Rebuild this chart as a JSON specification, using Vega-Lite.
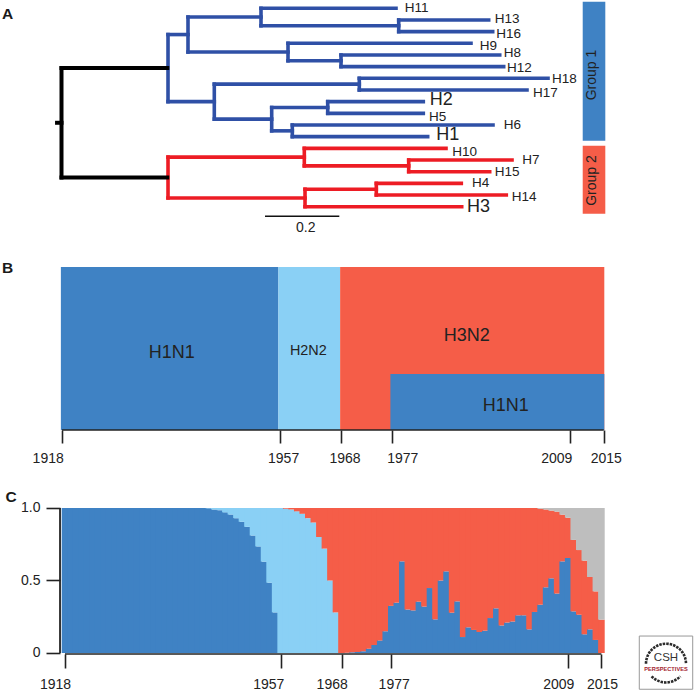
{
"$schema":"https://vega.github.io/schema/vega-lite/v6.json",
"background":"white",
"padding":0,
"spacing":0,
"bounds":"flush",
"resolve":{"scale":{"color":"independent","fill":"independent"}},
"config":{"view":{"stroke":null},"font":"Liberation Sans","text":{"font":"Liberation Sans"},"axis":{"labelFont":"Liberation Sans"}},
"vconcat":[
{
"width":694,"height":267,
"encoding":{
"x":{"field":"x","type":"quantitative","scale":{"domain":[-0.16555,1.70256],"nice":false,"zero":false},"axis":null},
"y":{"field":"y","type":"quantitative","scale":{"domain":[23.168,0.289],"nice":false,"zero":false},"axis":null}
},
"layer":[
{"data":{"values":[
{"x":0.2867,"x2":0.2867,"y":3.25,"y2":9,"clade":"Group 1"},
{"x":0.2867,"x2":0.3405,"y":3.25,"y2":3.25,"clade":"Group 1"},
{"x":0.2867,"x2":0.4113,"y":9,"y2":9,"clade":"Group 1"},
{"x":0.3405,"x2":0.3405,"y":1.75,"y2":4.75,"clade":"Group 1"},
{"x":0.3405,"x2":0.537,"y":1.75,"y2":1.75,"clade":"Group 1"},
{"x":0.3405,"x2":0.6097,"y":4.75,"y2":4.75,"clade":"Group 1"},
{"x":0.537,"x2":0.537,"y":1,"y2":2.5,"clade":"Group 1"},
{"x":0.537,"x2":0.9004,"y":1,"y2":1,"clade":"Group 1"},
{"x":0.537,"x2":0.9077,"y":2.5,"y2":2.5,"clade":"Group 1"},
{"x":0.9077,"x2":0.9077,"y":2,"y2":3,"clade":"Group 1"},
{"x":0.9077,"x2":1.1499,"y":2,"y2":2,"clade":"Group 1"},
{"x":0.9077,"x2":1.1607,"y":3,"y2":3,"clade":"Group 1"},
{"x":0.6097,"x2":0.6097,"y":4,"y2":5.5,"clade":"Group 1"},
{"x":0.6097,"x2":1.1023,"y":4,"y2":4,"clade":"Group 1"},
{"x":0.6097,"x2":0.7524,"y":5.5,"y2":5.5,"clade":"Group 1"},
{"x":0.7524,"x2":0.7524,"y":5,"y2":6,"clade":"Group 1"},
{"x":0.7524,"x2":1.1796,"y":5,"y2":5,"clade":"Group 1"},
{"x":0.7524,"x2":1.1903,"y":6,"y2":6,"clade":"Group 1"},
{"x":0.4113,"x2":0.4113,"y":7.5,"y2":10.5,"clade":"Group 1"},
{"x":0.4113,"x2":0.8016,"y":7.5,"y2":7.5,"clade":"Group 1"},
{"x":0.4113,"x2":0.5658,"y":10.5,"y2":10.5,"clade":"Group 1"},
{"x":0.8016,"x2":0.8016,"y":7,"y2":8,"clade":"Group 1"},
{"x":0.8016,"x2":1.3096,"y":7,"y2":7,"clade":"Group 1"},
{"x":0.8016,"x2":1.253,"y":8,"y2":8,"clade":"Group 1"},
{"x":0.5658,"x2":0.5658,"y":9.5,"y2":11.5,"clade":"Group 1"},
{"x":0.5658,"x2":0.7166,"y":9.5,"y2":9.5,"clade":"Group 1"},
{"x":0.5658,"x2":0.6213,"y":11.5,"y2":11.5,"clade":"Group 1"},
{"x":0.7166,"x2":0.7166,"y":9,"y2":10,"clade":"Group 1"},
{"x":0.7166,"x2":0.9739,"y":9,"y2":9,"clade":"Group 1"},
{"x":0.7166,"x2":0.9739,"y":10,"y2":10,"clade":"Group 1"},
{"x":0.6213,"x2":0.6213,"y":11,"y2":12,"clade":"Group 1"},
{"x":0.6213,"x2":1.1615,"y":11,"y2":11,"clade":"Group 1"},
{"x":0.6213,"x2":0.9857,"y":12,"y2":12,"clade":"Group 1"},
{"x":0.2867,"x2":0.2867,"y":13.75,"y2":17.25,"clade":"Group 2"},
{"x":0.2867,"x2":0.6536,"y":13.75,"y2":13.75,"clade":"Group 2"},
{"x":0.2867,"x2":0.6555,"y":17.25,"y2":17.25,"clade":"Group 2"},
{"x":0.6536,"x2":0.6536,"y":13,"y2":14.5,"clade":"Group 2"},
{"x":0.6536,"x2":1.035,"y":13,"y2":13,"clade":"Group 2"},
{"x":0.6536,"x2":0.9346,"y":14.5,"y2":14.5,"clade":"Group 2"},
{"x":0.9346,"x2":0.9346,"y":14,"y2":15,"clade":"Group 2"},
{"x":0.9346,"x2":1.2127,"y":14,"y2":14,"clade":"Group 2"},
{"x":0.9346,"x2":1.1526,"y":15,"y2":15,"clade":"Group 2"},
{"x":0.6555,"x2":0.6555,"y":16.5,"y2":18,"clade":"Group 2"},
{"x":0.6555,"x2":0.8474,"y":16.5,"y2":16.5,"clade":"Group 2"},
{"x":0.6555,"x2":1.0773,"y":18,"y2":18,"clade":"Group 2"},
{"x":0.8474,"x2":0.8474,"y":16,"y2":17,"clade":"Group 2"},
{"x":0.8474,"x2":1.0762,"y":16,"y2":16,"clade":"Group 2"},
{"x":0.8474,"x2":1.1973,"y":17,"y2":17,"clade":"Group 2"}
]},
"mark":{"type":"rule","strokeWidth":3.6,"strokeCap":"square"},
"encoding":{"x2":{"field":"x2"},"y2":{"field":"y2"},
"color":{"field":"clade","type":"nominal","legend":null,"scale":{"domain":["Group 1","Group 2"],"range":["#2F50A6","#ED1C24"]}}}},
{"data":{"values":[
{"x":-0.012,"x2":0,"y":10.81,"y2":10.81,"clade":"root"},
{"x":0,"x2":0,"y":6.125,"y2":15.5,"clade":"root"},
{"x":0,"x2":0.2847,"y":6.125,"y2":6.125,"clade":"root"},
{"x":0,"x2":0.2847,"y":15.5,"y2":15.5,"clade":"root"}
]},
"mark":{"type":"rule","strokeWidth":4,"strokeCap":"square","color":"#000000"},
"encoding":{"x2":{"field":"x2"},"y2":{"field":"y2"}}},
{"data":{"values":[
{"x":1.403,"x2":1.4638,"y":0.434,"y2":12.345,"group":"Group 1"},
{"x":1.403,"x2":1.4638,"y":12.774,"y2":18.6,"group":"Group 2"}
]},
"mark":{"type":"rect"},
"encoding":{"x2":{"field":"x2"},"y2":{"field":"y2"},
"fill":{"field":"group","type":"nominal","legend":null,"scale":{"domain":["Group 1","Group 2"],"range":["#3F82C4","#F55D48"]}}}},
{"data":{"values":[{"x":1.428,"y":6.72,"label":"Group 1"},{"x":1.428,"y":15.76,"label":"Group 2"}]},
"mark":{"type":"text","angle":270,"fontSize":14,"color":"#222222","align":"center","baseline":"middle"},
"encoding":{"text":{"field":"label"}}},
{"data":{"values":[{"x":0.5478,"x2":0.7478,"y":18.82,"y2":18.82}]},
"mark":{"type":"rule","strokeWidth":1.4,"color":"#111111"},
"encoding":{"x2":{"field":"x2"},"y2":{"field":"y2"}}},
{"data":{"values":[{"x":0.6573,"y":19.83,"label":"0.2"}]},
"mark":{"type":"text","fontSize":14,"color":"#222222","align":"center","baseline":"middle"},
"encoding":{"text":{"field":"label"}}},
{"data":{"values":[
{"label":"H11","x":0.9238,"y":1},
{"label":"H13","x":1.1661,"y":1.94},
{"label":"H16","x":1.1704,"y":3.18},
{"label":"H9","x":1.1257,"y":4.2},
{"label":"H8","x":1.1903,"y":4.86},
{"label":"H12","x":1.1992,"y":6.14},
{"label":"H18","x":1.3203,"y":7.08},
{"label":"H17","x":1.2692,"y":8.23},
{"label":"H5","x":0.9892,"y":10.29},
{"label":"H6","x":1.1903,"y":11.03},
{"label":"H10","x":1.052,"y":13.29},
{"label":"H7","x":1.2404,"y":14.03},
{"label":"H15","x":1.1661,"y":15.05},
{"label":"H4","x":1.105,"y":15.97},
{"label":"H14","x":1.2118,"y":17.17}
]},
"mark":{"type":"text","fontSize":13.5,"color":"#222222","align":"left","baseline":"middle"},
"encoding":{"text":{"field":"label"}}},
{"data":{"values":[
{"label":"H2","x":0.9911,"y":8.86},
{"label":"H1","x":1.0089,"y":11.86},
{"label":"H3","x":1.0915,"y":18.05}
]},
"mark":{"type":"text","fontSize":18,"color":"#222222","align":"left","baseline":"middle"},
"encoding":{"text":{"field":"label"}}},
{"data":{"values":[{"x":-0.1602,"y":1.46,"label":"A"}]},
"mark":{"type":"text","fontSize":15.5,"fontWeight":"bold","color":"#1a1a1a","align":"left","baseline":"middle"},
"encoding":{"text":{"field":"label"}}}
]
},
{
"width":694,"height":163,
"encoding":{
"x":{"field":"x","type":"quantitative","scale":{"domain":[1906.9,2031.16],"nice":false,"zero":false},
"axis":{"values":[1918,1957,1968,1977,2009,2015],"format":"d","title":null,"grid":false,"domain":false,"tickSize":13,"tickWidth":1.6,"tickColor":"#222222","labelFontSize":14,"labelColor":"#222222","labelPadding":8,"labelFlush":false,"labelOverlap":false,"labelBound":false,
"labelOffset":{"condition":[{"test":"datum.value===1918","value":-14.3},{"test":"datum.value===1957","value":3.3},{"test":"datum.value===1968","value":3.3},{"test":"datum.value===1977","value":10.7},{"test":"datum.value===2009","value":-14}],"value":2}}},
"y":{"field":"y","type":"quantitative","scale":{"domain":[0,1],"nice":false,"zero":false},"axis":null}
},
"layer":[
{"data":{"values":[
{"x":1917.8,"x2":1956.75,"y":0,"y2":1,"subtype":"H1N1"},
{"x":1956.75,"x2":1967.8,"y":0,"y2":1,"subtype":"H2N2"},
{"x":1967.8,"x2":2015.1,"y":0,"y2":1,"subtype":"H3N2"},
{"x":1976.8,"x2":2015.1,"y":0,"y2":0.344,"subtype":"H1N1"}
]},
"mark":{"type":"rect"},
"encoding":{"x2":{"field":"x2"},"y2":{"field":"y2"},
"fill":{"field":"subtype","type":"nominal","legend":null,"scale":{"domain":["H1N1","H2N2","H3N2"],"range":["#3F82C4","#8AD0F5","#F55D48"]}}}},
{"data":{"values":[{"x":1918,"x2":2015,"y":0}]},
"mark":{"type":"rule","strokeWidth":1.5,"color":"#222222"},
"encoding":{"x2":{"field":"x2"}}},
{"data":{"values":[
{"x":1937.64,"y":0.474,"label":"H1N1"},
{"x":1990.46,"y":0.577,"label":"H3N2"},
{"x":1997.45,"y":0.149,"label":"H1N1"}
]},
"mark":{"type":"text","fontSize":18,"color":"#222222","align":"center","baseline":"middle"},
"encoding":{"text":{"field":"label"}}},
{"data":{"values":[{"x":1962.1,"y":0.486,"label":"H2N2"}]},
"mark":{"type":"text","fontSize":14.4,"color":"#222222","align":"center","baseline":"middle"},
"encoding":{"text":{"field":"label"}}},
{"data":{"values":[{"x":1907.26,"y":0.992,"label":"B"}]},
"mark":{"type":"text","fontSize":15.5,"fontWeight":"bold","color":"#1a1a1a","align":"left","baseline":"middle"},
"encoding":{"text":{"field":"label"}}}
]
},
{
"width":694,"height":224,
"encoding":{
"x":{"field":"year","type":"quantitative","scale":{"domain":[1906.246,2031.743],"nice":false,"zero":false,"padding":0},
"axis":{"values":[1918,1957,1968,1977,2009,2015],"format":"d","title":null,"grid":false,"domain":false,"tickSize":14,"tickWidth":1.6,"tickColor":"#222222","labelFontSize":14,"labelColor":"#222222","labelPadding":9,"labelFlush":false,"labelOverlap":false,"labelBound":false,
"labelOffset":{"condition":[{"test":"datum.value===1918","value":-10},{"test":"datum.value===1957","value":-12.4},{"test":"datum.value===1968","value":-9.8},{"test":"datum.value===1977","value":2.4},{"test":"datum.value===2009","value":-10}],"value":0.6}}}
},
"layer":[
{"data":{"values":[
{"year":1918,"H1N1":1,"H2N2":0,"H3N2":0,"Other":0},{"year":1919,"H1N1":1,"H2N2":0,"H3N2":0,"Other":0},{"year":1920,"H1N1":1,"H2N2":0,"H3N2":0,"Other":0},{"year":1921,"H1N1":1,"H2N2":0,"H3N2":0,"Other":0},{"year":1922,"H1N1":1,"H2N2":0,"H3N2":0,"Other":0},{"year":1923,"H1N1":1,"H2N2":0,"H3N2":0,"Other":0},{"year":1924,"H1N1":1,"H2N2":0,"H3N2":0,"Other":0},{"year":1925,"H1N1":1,"H2N2":0,"H3N2":0,"Other":0},{"year":1926,"H1N1":1,"H2N2":0,"H3N2":0,"Other":0},{"year":1927,"H1N1":1,"H2N2":0,"H3N2":0,"Other":0},
{"year":1928,"H1N1":1,"H2N2":0,"H3N2":0,"Other":0},{"year":1929,"H1N1":1,"H2N2":0,"H3N2":0,"Other":0},{"year":1930,"H1N1":1,"H2N2":0,"H3N2":0,"Other":0},{"year":1931,"H1N1":1,"H2N2":0,"H3N2":0,"Other":0},{"year":1932,"H1N1":1,"H2N2":0,"H3N2":0,"Other":0},{"year":1933,"H1N1":1,"H2N2":0,"H3N2":0,"Other":0},{"year":1934,"H1N1":1,"H2N2":0,"H3N2":0,"Other":0},{"year":1935,"H1N1":1,"H2N2":0,"H3N2":0,"Other":0},{"year":1936,"H1N1":1,"H2N2":0,"H3N2":0,"Other":0},{"year":1937,"H1N1":1,"H2N2":0,"H3N2":0,"Other":0},
{"year":1938,"H1N1":1,"H2N2":0,"H3N2":0,"Other":0},{"year":1939,"H1N1":1,"H2N2":0,"H3N2":0,"Other":0},{"year":1940,"H1N1":1,"H2N2":0,"H3N2":0,"Other":0},{"year":1941,"H1N1":1,"H2N2":0,"H3N2":0,"Other":0},{"year":1942,"H1N1":1,"H2N2":0,"H3N2":0,"Other":0},{"year":1943,"H1N1":1,"H2N2":0,"H3N2":0,"Other":0},
{"year":1944,"H1N1":0.998,"H2N2":0.002,"H3N2":0,"Other":0},{"year":1945,"H1N1":0.99,"H2N2":0.01,"H3N2":0,"Other":0},{"year":1946,"H1N1":0.985,"H2N2":0.015,"H3N2":0,"Other":0},{"year":1947,"H1N1":0.97,"H2N2":0.03,"H3N2":0,"Other":0},{"year":1948,"H1N1":0.955,"H2N2":0.045,"H3N2":0,"Other":0},{"year":1949,"H1N1":0.93,"H2N2":0.07,"H3N2":0,"Other":0},{"year":1950,"H1N1":0.905,"H2N2":0.095,"H3N2":0,"Other":0},{"year":1951,"H1N1":0.87,"H2N2":0.13,"H3N2":0,"Other":0},{"year":1952,"H1N1":0.81,"H2N2":0.19,"H3N2":0,"Other":0},{"year":1953,"H1N1":0.735,"H2N2":0.265,"H3N2":0,"Other":0},{"year":1954,"H1N1":0.63,"H2N2":0.37,"H3N2":0,"Other":0},{"year":1955,"H1N1":0.485,"H2N2":0.515,"H3N2":0,"Other":0},{"year":1956,"H1N1":0.28,"H2N2":0.72,"H3N2":0,"Other":0},
{"year":1957,"H1N1":0,"H2N2":1,"H3N2":0,"Other":0},{"year":1958,"H1N1":0,"H2N2":0.995,"H3N2":0.005,"Other":0},{"year":1959,"H1N1":0,"H2N2":0.99,"H3N2":0.01,"Other":0},{"year":1960,"H1N1":0,"H2N2":0.977,"H3N2":0.023,"Other":0},{"year":1961,"H1N1":0,"H2N2":0.96,"H3N2":0.04,"Other":0},{"year":1962,"H1N1":0,"H2N2":0.93,"H3N2":0.07,"Other":0},{"year":1963,"H1N1":0,"H2N2":0.9,"H3N2":0.1,"Other":0},{"year":1964,"H1N1":0,"H2N2":0.8,"H3N2":0.2,"Other":0},{"year":1965,"H1N1":0,"H2N2":0.72,"H3N2":0.28,"Other":0},{"year":1966,"H1N1":0,"H2N2":0.5,"H3N2":0.5,"Other":0},{"year":1967,"H1N1":0,"H2N2":0.28,"H3N2":0.72,"Other":0},
{"year":1968,"H1N1":0,"H2N2":0,"H3N2":1,"Other":0},{"year":1969,"H1N1":0.002,"H2N2":0,"H3N2":0.998,"Other":0},{"year":1970,"H1N1":0.005,"H2N2":0,"H3N2":0.995,"Other":0},{"year":1971,"H1N1":0.007,"H2N2":0,"H3N2":0.993,"Other":0},{"year":1972,"H1N1":0.012,"H2N2":0,"H3N2":0.988,"Other":0},{"year":1973,"H1N1":0.03,"H2N2":0,"H3N2":0.97,"Other":0},{"year":1974,"H1N1":0.055,"H2N2":0,"H3N2":0.945,"Other":0},{"year":1975,"H1N1":0.087,"H2N2":0,"H3N2":0.913,"Other":0},{"year":1976,"H1N1":0.15,"H2N2":0,"H3N2":0.85,"Other":0},{"year":1977,"H1N1":0.325,"H2N2":0,"H3N2":0.675,"Other":0},
{"year":1978,"H1N1":0.347,"H2N2":0,"H3N2":0.653,"Other":0},{"year":1979,"H1N1":0.632,"H2N2":0,"H3N2":0.368,"Other":0},{"year":1980,"H1N1":0.3,"H2N2":0,"H3N2":0.7,"Other":0},{"year":1981,"H1N1":0.294,"H2N2":0,"H3N2":0.706,"Other":0},{"year":1982,"H1N1":0.354,"H2N2":0,"H3N2":0.646,"Other":0},{"year":1983,"H1N1":0.32,"H2N2":0,"H3N2":0.68,"Other":0},{"year":1984,"H1N1":0.448,"H2N2":0,"H3N2":0.552,"Other":0},{"year":1985,"H1N1":0.232,"H2N2":0,"H3N2":0.768,"Other":0},{"year":1986,"H1N1":0.5,"H2N2":0,"H3N2":0.5,"Other":0},{"year":1987,"H1N1":0.563,"H2N2":0,"H3N2":0.437,"Other":0},
{"year":1988,"H1N1":0.278,"H2N2":0,"H3N2":0.722,"Other":0},{"year":1989,"H1N1":0.356,"H2N2":0,"H3N2":0.644,"Other":0},{"year":1990,"H1N1":0.11,"H2N2":0,"H3N2":0.89,"Other":0},{"year":1991,"H1N1":0.177,"H2N2":0,"H3N2":0.823,"Other":0},{"year":1992,"H1N1":0.159,"H2N2":0,"H3N2":0.841,"Other":0},{"year":1993,"H1N1":0.145,"H2N2":0,"H3N2":0.855,"Other":0},{"year":1994,"H1N1":0.154,"H2N2":0,"H3N2":0.846,"Other":0},{"year":1995,"H1N1":0.241,"H2N2":0,"H3N2":0.759,"Other":0},{"year":1996,"H1N1":0.308,"H2N2":0,"H3N2":0.692,"Other":0},{"year":1997,"H1N1":0.19,"H2N2":0,"H3N2":0.81,"Other":0},
{"year":1998,"H1N1":0.21,"H2N2":0,"H3N2":0.79,"Other":0},{"year":1999,"H1N1":0.218,"H2N2":0,"H3N2":0.782,"Other":0},{"year":2000,"H1N1":0.26,"H2N2":0,"H3N2":0.74,"Other":0},{"year":2001,"H1N1":0.26,"H2N2":0,"H3N2":0.74,"Other":0},{"year":2002,"H1N1":0.163,"H2N2":0,"H3N2":0.837,"Other":0},{"year":2003,"H1N1":0.283,"H2N2":0,"H3N2":0.717,"Other":0},{"year":2004,"H1N1":0.333,"H2N2":0,"H3N2":0.662,"Other":0.005},{"year":2005,"H1N1":0.453,"H2N2":0,"H3N2":0.537,"Other":0.01},{"year":2006,"H1N1":0.515,"H2N2":0,"H3N2":0.467,"Other":0.018},{"year":2007,"H1N1":0.41,"H2N2":0,"H3N2":0.565,"Other":0.025},
{"year":2008,"H1N1":0.632,"H2N2":0,"H3N2":0.322,"Other":0.046},{"year":2009,"H1N1":0.655,"H2N2":0,"H3N2":0.278,"Other":0.067},{"year":2010,"H1N1":0.287,"H2N2":0,"H3N2":0.493,"Other":0.22},{"year":2011,"H1N1":0.264,"H2N2":0,"H3N2":0.446,"Other":0.29},{"year":2012,"H1N1":0.129,"H2N2":0,"H3N2":0.508,"Other":0.363},{"year":2013,"H1N1":0.163,"H2N2":0,"H3N2":0.361,"Other":0.476},{"year":2014,"H1N1":0.09,"H2N2":0,"H3N2":0.335,"Other":0.575},{"year":2015,"H1N1":0,"H2N2":0,"H3N2":0.23,"Other":0.77}
]},
"transform":[{"fold":["H1N1","H2N2","H3N2","Other"],"as":["subtype","share"]}],
"mark":{"type":"bar","width":6.6,"orient":"vertical"},
"encoding":{
"y":{"field":"share","type":"quantitative","stack":"zero","title":null,"scale":{"domain":[-0.0069,1.5379],"nice":false,"zero":false},
"axis":{"values":[0,0.5,1],"offset":-60,"title":null,"grid":false,"domain":false,"tickSize":14,"tickWidth":1.6,"tickColor":"#222222","labelFontSize":14,"labelColor":"#222222","labelPadding":6,"labelExpr":"datum.value===1?'1.0':datum.value===0?'0':'0.5'"}},
"order":{"field":"subtype"},
"color":{"field":"subtype","type":"nominal","legend":null,"scale":{"domain":["H1N1","H2N2","H3N2","Other"],"range":["#3F82C4","#8AD0F5","#F55D48","#BEBEBE"]}}
}},
{"data":{"values":[{"year":1918,"year2":2015,"v":-0.0069}]},
"mark":{"type":"rule","strokeWidth":1.5,"color":"#222222"},
"encoding":{"x2":{"field":"year2"},"y":{"field":"v","type":"quantitative"}}},
{"data":{"values":[{"year":1917.1,"v":0,"v2":1}]},
"mark":{"type":"rule","strokeWidth":1.8,"color":"#222222"},
"encoding":{"y":{"field":"v","type":"quantitative"},"y2":{"field":"v2"}}},
{"data":{"values":[{"year":1907.26,"v":1.0759,"label":"C"}]},
"mark":{"type":"text","fontSize":15.5,"fontWeight":"bold","color":"#1a1a1a","align":"left","baseline":"middle"},
"encoding":{"y":{"field":"v","type":"quantitative"},"text":{"field":"label"}}},
{"data":{"values":[{"year":2021.85,"year2":2031.51,"v":0.117,"v2":-0.25}]},
"mark":{"type":"rect","fill":"#ffffff","stroke":"#999999","strokeWidth":1},
"encoding":{"x2":{"field":"year2"},"y":{"field":"v","type":"quantitative"},"y2":{"field":"v2"}}},
{"data":{"values":[{"year":2026.68,"v":-0.067}]},
"mark":{"type":"point","filled":false,"size":1600,"shape":"M-1,0.05 A1,1 0 1 1 1,0.05 M-0.72,0.68 A1,1 0 0 0 0.72,0.68","stroke":"#2b2b2b","strokeWidth":2.6,"strokeDash":[2.5,1],"opacity":1},
"encoding":{"y":{"field":"v","type":"quantitative"}}},
{"data":{"values":[{"year":2026.68,"v":-0.037,"label":"CSH"}]},
"mark":{"type":"text","fontSize":11.5,"color":"#333333","align":"center","baseline":"middle"},
"encoding":{"y":{"field":"v","type":"quantitative"},"text":{"field":"label"}}},
{"data":{"values":[{"year":2026.68,"v":-0.108,"label":"PERSPECTIVES"}]},
"mark":{"type":"text","fontSize":5.7,"fontWeight":"bold","color":"#A3232E","align":"center","baseline":"middle"},
"encoding":{"y":{"field":"v","type":"quantitative"},"text":{"field":"label"}}}
]
}
]
}
